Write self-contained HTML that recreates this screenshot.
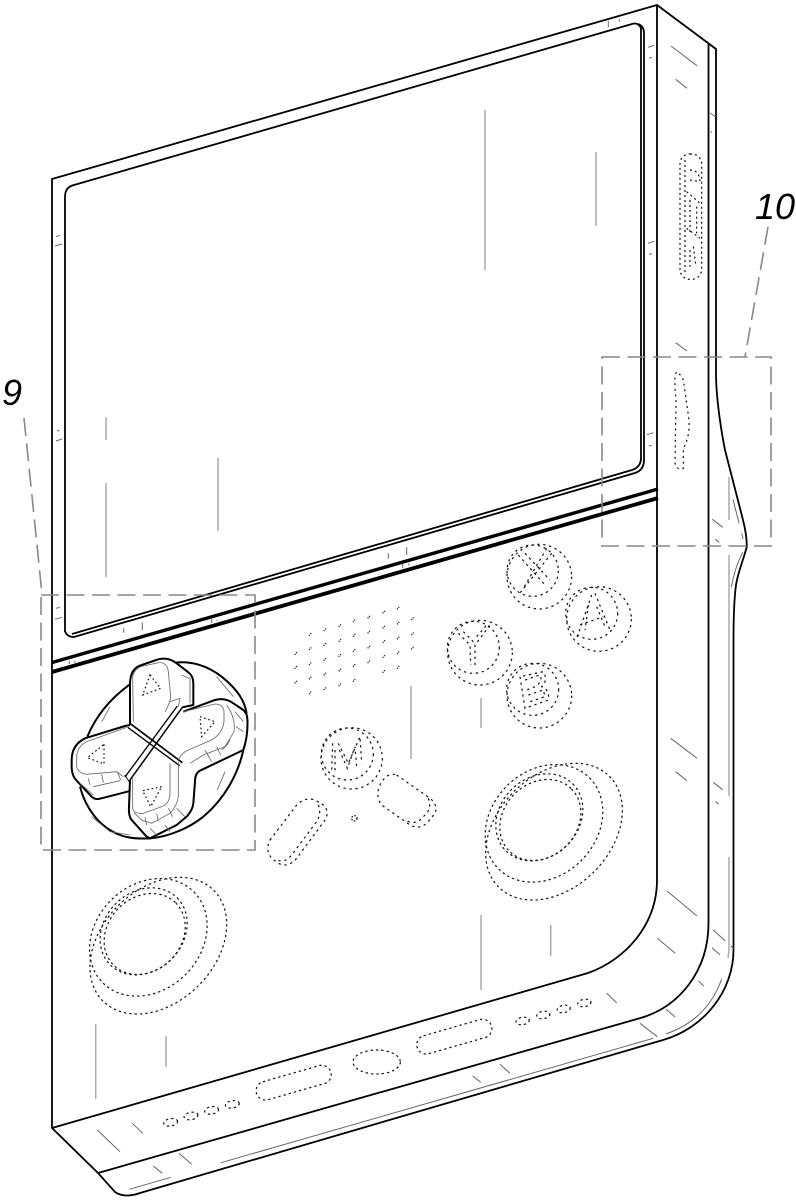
<!DOCTYPE html>
<html><head><meta charset="utf-8"><style>
html,body{margin:0;padding:0;background:#fff;width:796px;height:1200px;overflow:hidden}
svg{display:block}
text{font-family:"Liberation Sans",sans-serif;font-style:italic;fill:#000}
.k{fill:none;stroke:#000;stroke-width:1.8}
.g{fill:none;stroke:#aaa;stroke-width:1.5}
.t{fill:none;stroke:#666;stroke-width:1}
.d{fill:none;stroke:#111;stroke-width:3.6;stroke-dasharray:7 11}
.dd{fill:none;stroke:#111;stroke-width:3.6;stroke-dasharray:7 9}
.gz{fill:none;stroke:#666;stroke-width:2.5}
.kz{fill:none;stroke:#000;stroke-width:6;stroke-linejoin:round}
.r{fill:none;stroke:#888;stroke-width:1.6;stroke-dasharray:18 7.5}
</style></head><body>
<svg width="796" height="1200" viewBox="0 0 796 1200" xmlns="http://www.w3.org/2000/svg">
<!-- body -->
<path class="k" d="M52,179 L657,5 L716,49 L716,373 C716,400 722,435 725,450 L743,520 C746,532 747,540 746.7,547 C744,558 738,572 736,585 C734,600 733.5,620 733.5,640 L733.5,950 C733.5,990 705,1028 663,1040 L140,1193 C132,1196 122,1197 115,1192 L98,1173 L52,1128 Z"/>
<path class="k" d="M657,5 L657,880 C657,925 625,960 588,973 L52,1128"/>
<path class="k" d="M708.5,44 L708.5,923 C708.5,970 680,1008 637,1019 L98,1173"/>
<!-- screen -->
<path class="k" d="M65,632 L65,197 Q65,187 74,185 L632,24 Q638,22 641,28 L641,458 Q641,467 632,470 L72,634"/>
<path class="k" d="M638,24 Q644,26 644,33 L644,460 Q644,470 635,473 L74,637 Q67,637 65,631"/>
<!-- thick separators -->
<path d="M52,662.5 L658,489" stroke="#000" stroke-width="3.4" fill="none"/>
<path d="M52,672 L658,498" stroke="#000" stroke-width="3.8" fill="none"/>
<!-- long gray shading -->
<path class="g" d="M485,110V270M596,152V226M106,417V440M106,483V577M218,458V531M411,686V759M481,698V728M481,915V990M550.7,925V956M95.7,1024V1099M166,1036V1067M729,477V520M729,555V796M729,857V950L728,958"/>
<!-- thin ticks -->
<path class="t" d="M648,47.3L654,45.3M649,58.3L652,57.3M648,243.3L654,241.3M649,254.3L652,253.7M671,46L697,65.7M675.7,79.3L687,88.3M710,113L716,117M710.3,131.3L711.7,132.3M647,434.7L653.3,432.7M649,446L651.7,445.3M675.7,342.7L687,351M712.3,519.3L722.7,527.3M715.3,539.3L719.3,542.3M670.7,738.3L697,758.3M675.7,771.7L687,780.7M713.3,782.3L722.7,789.7M715.3,801.7L718.7,804"/>
<path class="t" d="M667,891L697,916M657.3,938.3L675.3,953.3M713.3,930L725.3,941M712,947.7L720,954.7M698.3,980.7L703.7,986M666,1009.3L675.3,1017M606.7,993.3L616.7,1002.7M640,1023.3L657.3,1036.7M500,1064.3L510,1073.3M731,945.7L733.3,949"/>
<path class="t" d="M97.3,1130L120,1151.7M132.3,1123.3L142.7,1133.3M153.3,1166L162.3,1173.3M179,1153.3L191.7,1164.3M129.3,1189.3L170.7,1177.3M221,1162.7L653.3,1038.3M472.7,1076L480.7,1082.3M665.7,1034Q707,1020 721.7,979"/>
<path class="t" d="M56,236.7L60,235.3M55,246L62,244M57,431L59.5,430.3M56,441L62,439M56,608.3L60,607.3M55,619.3L62,617.3M123.7,628.3V632.7M142.3,622.3V630M69.3,660.7V664M75,661V662.7M211.7,619V623M217,620V621M388.3,553.3V558.7M406.7,547.3V555M402.7,563.3V568.3M409,563.3V565.7M608.3,20.7V27.3M619.3,19.3V21.7"/>
<path class="t" d="M733,499.3L739,523.3M741.7,533.3L743,539M731.3,587Q735,567 742.7,552.3"/>
<!-- reference frames -->
<rect class="r" x="41" y="595" width="214" height="255"/>
<rect class="r" x="602" y="357" width="169" height="189"/>
<path class="r" d="M24,418 L42,594"/>
<path class="r" d="M768,227 L745,357"/>
<text x="2" y="405" font-size="36">9</text>
<text x="755" y="219" font-size="36">10</text>

<!-- D-pad -->
<g transform="translate(30,590) scale(.33333)">
<path class="kz" d="M300,283 C235,330 195,385 172,440"/>
<path class="kz" d="M150,590 C165,650 205,710 270,735 C295,745 325,747 360,745"/>
<path class="kz" d="M435,218 C480,212 530,225 575,260 C625,300 645,335 650,372"/>
<path class="kz" d="M640,480 C625,550 585,625 520,680 C480,712 420,740 360,745"/>
<path class="kz" d="M300,405 L300,283 Q300,235 335,225 L385,208 Q415,200 440,220 L475,247 Q490,258 490,280 L490,345 L457,352"/>
<path class="kz" d="M460,365 L555,330 Q585,322 610,340 L640,360 Q650,368 652,385 Q655,435 640,480 L510,542 Q495,550 495,575 L490,640 Q488,660 470,680 L440,705 L360,745 L350,740 L305,690 Q295,678 297,650 L300,570"/>
<path class="kz" d="M300,405 L285,408 L165,445 Q125,465 125,510 L125,535 Q127,560 140,572 L185,620 Q195,630 210,626 L300,603"/>
<!-- cross gap -->
<path d="M301,401 L457,518" stroke="#000" stroke-width="5" fill="none"/>
<path d="M293,412 L449,527" stroke="#000" stroke-width="4" fill="none"/>
<path d="M442,348 L285,561" stroke="#000" stroke-width="4" fill="none"/>
<path d="M457,352 L300,570" stroke="#000" stroke-width="4.5" fill="none"/>
<path d="M284,555 L298,575 L300,605" stroke="#000" stroke-width="3" fill="none"/>
<!-- gray contours -->
<path class="gz" d="M310,395 L308,262 Q312,235 340,228 L385,218 Q412,216 415,245 L422,320 Q420,340 405,365"/>
<path class="gz" d="M455,255 L478,265 M420,335 L450,325 L445,350 M480,262 L480,340"/>
<path class="gz" d="M460,365 L555,342 Q580,342 582,365 L582,395 Q578,430 545,450 L475,480 Q455,488 445,510"/>
<path class="gz" d="M590,345 Q618,385 612,425 L585,470 L520,495 L480,520 M615,365 L640,395 M618,410 L640,425 M600,450 Q590,470 575,480 M525,480 L545,515 M560,470 L572,495"/>
<path class="gz" d="M290,412 L170,455 Q140,470 140,505 L140,530 Q145,550 170,553 L260,545 L280,560"/>
<path class="gz" d="M150,580 L190,615 M175,565 L180,585 M215,552 L220,578 M262,545 L272,570 M190,590 L270,572"/>
<path class="gz" d="M308,560 L308,655 Q312,672 340,670 L395,650 Q420,640 420,610 L420,520 M445,515 L445,620 Q440,650 420,670 L365,700 L335,690 L312,668"/>
<path class="gz" d="M345,682 L350,705 M380,670 L385,695 M415,655 L428,680 M360,715 L380,735 M405,705 L420,725 M440,655 L465,680"/>
<path class="gz" d="M240,350 L215,395 M585,545 L562,600 M185,680 L240,725 L300,735 M610,320 L560,260"/>
<!-- triangles -->
<path class="d" style="stroke-dasharray:5 8" d="M360,255 L392,295 L338,315 Z M510,380 L555,395 L515,440 Z M222,463 L222,522 L172,503 Z M395,590 L338,602 L362,650 Z"/>
</g>

<!-- buttons -->
<g transform="translate(260,530) scale(.33333)">
<circle class="d" cx="838" cy="140" r="97"/><circle class="d" cx="818" cy="122" r="77"/>
<path class="d" d="M775,75 L855,165 M795,70 L870,150 M860,55 L790,175 M875,70 L775,195"/>
<circle class="d" cx="1017" cy="267" r="97"/><circle class="d" cx="995" cy="250" r="78"/>
<path class="d" d="M995,195 L950,325 M1005,190 L1050,300 M985,225 L975,300 M1010,230 L1035,290 M960,285 L1030,260"/>
<circle class="d" cx="660" cy="368" r="97"/><circle class="d" cx="640" cy="352" r="78"/>
<path class="d" d="M595,310 L630,345 L632,405 M610,305 L640,335 M645,405 L645,345 L690,285 M650,320 L680,285"/>
<circle class="d" cx="838" cy="497" r="97"/><circle class="d" cx="818" cy="478" r="78"/>
<path class="d" d="M780,440 L795,535 L865,510 Q870,480 845,470 Q865,450 850,425 Z M795,450 L840,435 Q850,455 825,470 L800,480 M805,495 L850,480 L855,500 L810,515"/>
<circle class="d" cx="275" cy="685" r="92"/><circle class="d" cx="262" cy="672" r="78"/>
<path class="d" d="M218,640 L215,725 M235,640 L265,700 L300,620 L305,700 M225,660 L225,725 M238,660 L262,715 L285,650 L290,710"/>
<!-- speaker -->
<path fill="none" stroke="#111" stroke-width="3.6" stroke-dasharray="3.5 3" d="M147,317l8,-9M147,360l8,-9M147,405l8,-9M147,448l8,-9M147,492l8,-9M191,303l8,-9M191,347l8,-9M191,392l8,-9M191,436l8,-9M191,480l8,-9M236,291l8,-9M236,335l8,-9M236,380l8,-9M236,424l8,-9M236,468l8,-9M279,276l8,-9M279,320l8,-9M279,365l8,-9M279,410l8,-9M279,455l8,-9M323,265l8,-9M323,310l8,-9M323,355l8,-9M323,399l8,-9M368,250l8,-9M368,295l8,-9M368,338l8,-9M368,383l8,-9M368,428l8,-9M411,238l8,-9M411,283l8,-9M411,328l8,-9M411,372l8,-9M411,416l8,-9M454,270l8,-9M454,315l8,-9M454,358l8,-9M104,374l8,-9M104,416l8,-9M104,460l8,-9"/>
<!-- pills -->
<path class="d" d="M30,930 L110,825 Q135,800 165,810 L190,825 Q210,845 195,870 L110,985 Q85,1015 55,1000 L35,985 Q15,960 30,930 Z"/>
<path class="d" d="M175,825 Q185,850 170,875 L95,975 Q75,1000 50,990"/>
<path class="d" d="M410,735 L510,805 Q535,825 525,850 L500,880 Q475,900 450,885 L365,825 Q345,800 360,765 Q380,725 410,735 Z"/>
<path class="d" d="M505,805 Q515,830 500,850 L480,870 Q460,885 435,870"/>
<circle fill="none" stroke="#111" stroke-width="3.6" stroke-dasharray="5 4" cx="283" cy="865" r="8"/>
<!-- right stick -->
<g class="dd">
<ellipse cx="882" cy="905" rx="235" ry="170" transform="rotate(-45 882 905)"/>
<ellipse cx="852" cy="880" rx="193" ry="158" transform="rotate(-45 852 880)"/>
<ellipse cx="841" cy="870" rx="132" ry="110" transform="rotate(-45 841 870)"/>
<ellipse cx="838" cy="862" rx="142" ry="118" transform="rotate(-45 838 862)"/>
</g>
</g>
<!-- left stick -->
<g transform="translate(80,860) scale(.33333)" class="dd">
<ellipse cx="235" cy="257" rx="235" ry="170" transform="rotate(-45 235 257)"/>
<ellipse cx="205" cy="232" rx="193" ry="158" transform="rotate(-45 205 232)"/>
<ellipse cx="194" cy="222" rx="132" ry="110" transform="rotate(-45 194 222)"/>
<ellipse cx="191" cy="214" rx="142" ry="118" transform="rotate(-45 191 214)"/>
</g>
<!-- bottom edge ports -->
<g transform="translate(40,1000) scale(.33333)" class="d" style="stroke-dasharray:7 9">
<ellipse cx="392" cy="367" rx="21" ry="11" transform="rotate(-10 392 367)"/>
<ellipse cx="453" cy="348" rx="21" ry="11" transform="rotate(-10 453 348)"/>
<ellipse cx="515" cy="331" rx="21" ry="11" transform="rotate(-10 515 331)"/>
<ellipse cx="577" cy="313" rx="21" ry="11" transform="rotate(-10 577 313)"/>
<rect x="645" y="220" width="232" height="56" rx="28" transform="rotate(-16 761 248)"/>
<ellipse cx="1010" cy="186" rx="71" ry="36"/>
<rect x="1127" y="82" width="232" height="56" rx="28" transform="rotate(-16 1243 110)"/>
</g>
<g transform="translate(500,880) scale(.33333)" class="d" style="stroke-dasharray:7 9">
<ellipse cx="68" cy="423" rx="20" ry="11" transform="rotate(-10 68 423)"/>
<ellipse cx="130" cy="405" rx="20" ry="11" transform="rotate(-10 130 405)"/>
<ellipse cx="191" cy="387" rx="20" ry="11" transform="rotate(-10 191 387)"/>
<ellipse cx="253" cy="369" rx="20" ry="11" transform="rotate(-10 253 369)"/>
</g>
<!-- side controls -->
<g transform="translate(590,0) scale(.33333)" class="d" style="stroke-dasharray:6 9">
<rect x="270" y="462" width="65" height="376" rx="30"/>
<path d="M285,480 L285,825 M300,510 Q330,510 330,550 M300,540 L330,545 M290,575 L330,610 M300,600 L300,700 M290,685 L330,715 M310,740 L318,800 M300,750 L300,800 M320,620 L320,700"/>
</g>
<g transform="translate(590,340) scale(.33333)">
<path class="d" style="stroke-dasharray:6 11" d="M260,97 Q250,100 258,180 L255,370 Q265,395 280,385 L280,325 Q300,290 297,240 L280,120 Q275,105 260,97 Z"/>
</g>
</svg>
</body></html>
